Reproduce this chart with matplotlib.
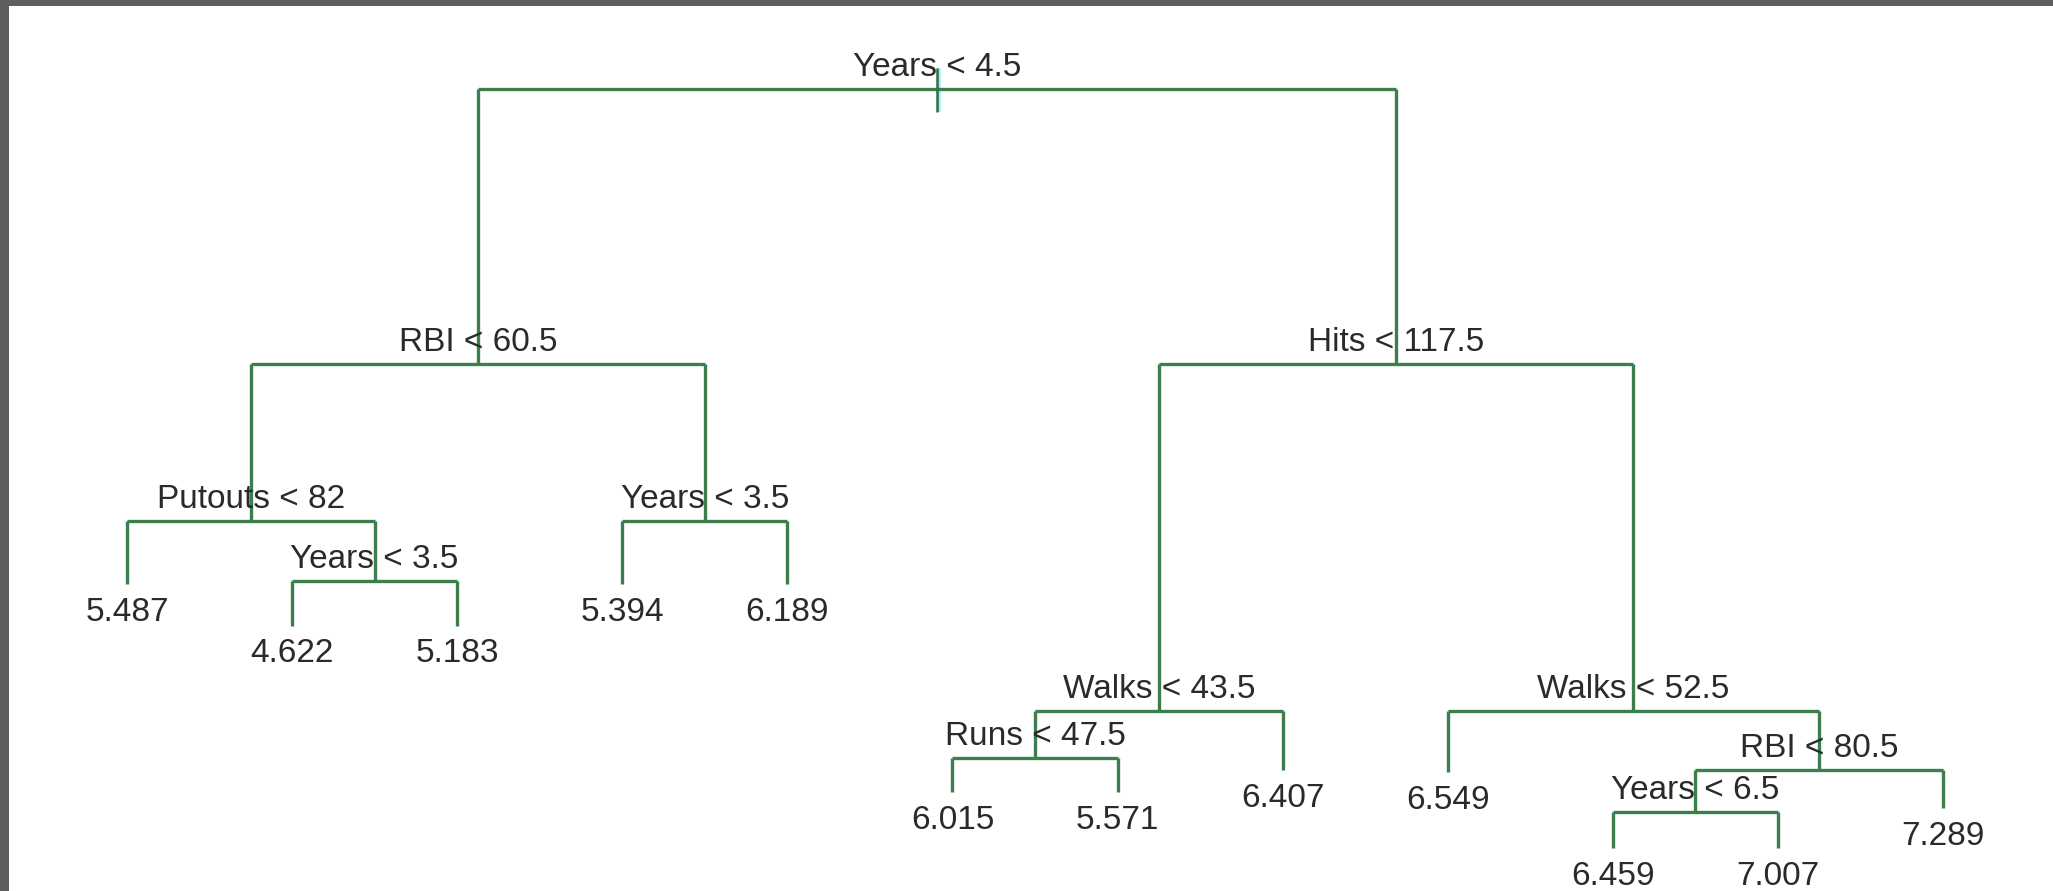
import matplotlib
matplotlib.use("Agg")
import matplotlib.pyplot as plt
from matplotlib.patches import Rectangle
from matplotlib.transforms import offset_copy

# Regression tree for log(Salary) on the Hitters data.
# Nodes use binary numbering (root = 1, children of k are 2k and 2k+1), listed in pre-order.
node_ids = [1, 2, 4, 8, 9, 18, 19, 5, 10, 11, 3, 6, 12, 24, 25, 13, 7, 14, 15, 30, 60, 61, 31]

# Split rules of the internal nodes
split_labels = {
    1: "Years < 4.5",
    2: "RBI < 60.5",
    4: "Putouts < 82",
    9: "Years < 3.5",
    5: "Years < 3.5",
    3: "Hits < 117.5",
    6: "Walks < 43.5",
    12: "Runs < 47.5",
    7: "Walks < 52.5",
    15: "RBI < 80.5",
    30: "Years < 6.5",
}

# Mean log salary in each terminal node
leaf_values = {
    8: 5.487, 18: 4.622, 19: 5.183, 10: 5.394, 11: 6.189,
    24: 6.015, 25: 5.571, 13: 6.407, 14: 6.549, 60: 6.459,
    61: 7.007, 31: 7.289,
}

# Node deviance (sets the vertical position of each node)
deviance = [207.0, 137.1, 97.2, 81.2, 81.9, 70.6, 70.6, 97.2, 81.2, 81.2,
            137.1, 48.9, 36.9, 28.3, 28.3, 33.9, 48.9, 33.3, 33.9, 23.3,
            14.0, 14.0, 24.3]

dev = dict(zip(node_ids, deviance))

# Leaves are spaced evenly, internal nodes sit midway between their children
leaf_order = [n for n in node_ids if n in leaf_values]
xpos = {n: i + 1 for i, n in enumerate(leaf_order)}


def place(n):
    if n in xpos:
        return xpos[n]
    xpos[n] = (place(2 * n) + place(2 * n + 1)) / 2.0
    return xpos[n]


place(1)

W, H, DPI = 2053, 891, 100
fig = plt.figure(figsize=(W / DPI, H / DPI), dpi=DPI)
fig.patch.set_facecolor("white")
ax = fig.add_axes([0, 0, 1, 1])
ax.set_xlim(0.2308, 12.666)
ax.set_ylim(3.16, 229.6)
ax.axis("off")

line_col = "#3d7e4e"
lw = 2.4
text_col = "#2a2a2a"
fs = 24
font = ["Liberation Sans", "DejaVu Sans"]

for n in node_ids:
    if n in split_labels:
        l, r = 2 * n, 2 * n + 1
        ax.plot([xpos[l], xpos[r]], [dev[n], dev[n]], color=line_col, lw=lw,
                solid_capstyle="butt", zorder=2)
        for c in (l, r):
            ax.plot([xpos[c], xpos[c]], [dev[n], dev[c]], color=line_col, lw=lw,
                    solid_capstyle="butt", zorder=2)
        tr = offset_copy(ax.transData, fig=fig, x=0, y=9.5, units="points")
        ax.text(xpos[n], dev[n], split_labels[n], transform=tr, ha="center",
                va="baseline", fontsize=fs, color=text_col, family=font, zorder=3)
    else:
        tr = offset_copy(ax.transData, fig=fig, x=0, y=-26.5, units="points")
        ax.text(xpos[n], dev[n], f"{leaf_values[n]:.3f}", transform=tr, ha="center",
                va="baseline", fontsize=fs, color=text_col, family=font, zorder=3)

# Short stub marking the root node
root_x = xpos[1]
stub = [dev[1] + 5.4, dev[1] - 5.8]
cyan_tr = offset_copy(ax.transData, fig=fig, x=1.6, y=0, units="points")
ax.plot([root_x, root_x], stub, color="#a6ecff", lw=2.6, transform=cyan_tr,
        solid_capstyle="butt", zorder=1)
ax.plot([root_x, root_x], stub, color="#2f6f3e", lw=1.8, solid_capstyle="butt", zorder=3)

# Window frame on the top and left edges
fig.patches.append(Rectangle((0, 1 - 6 / H), 1, 6 / H, transform=fig.transFigure,
                             facecolor="#5e5e5e", edgecolor="none", zorder=10))
fig.patches.append(Rectangle((0, 0), 9 / W, 1, transform=fig.transFigure,
                             facecolor="#5e5e5e", edgecolor="none", zorder=10))

fig.savefig("out.png", dpi=DPI, facecolor="white")
